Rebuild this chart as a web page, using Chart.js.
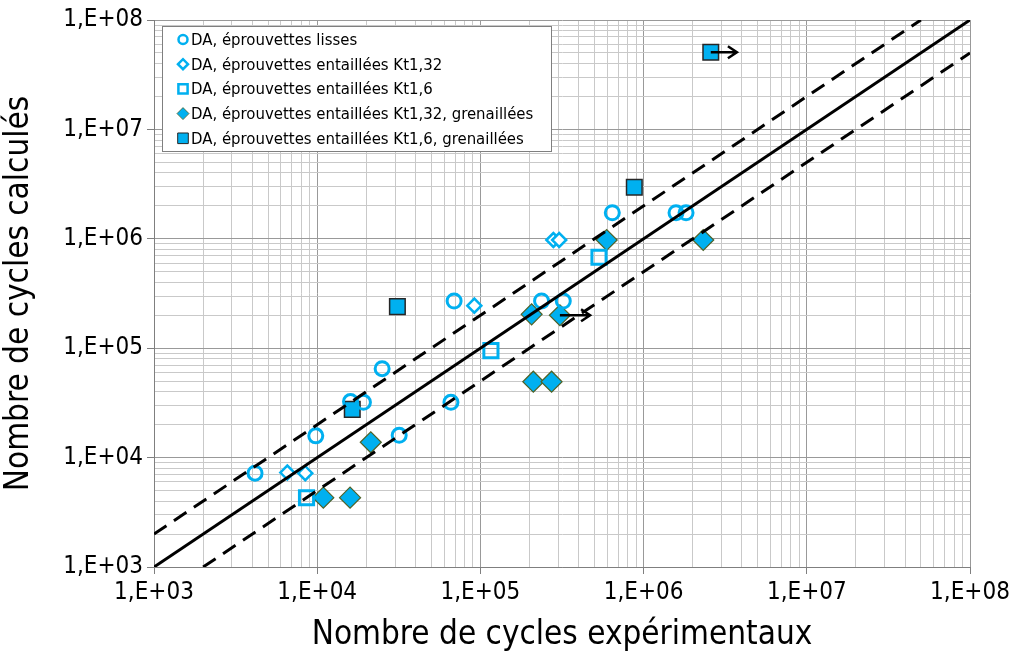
<!DOCTYPE html>
<html>
<head>
<meta charset="utf-8">
<script src="https://cdn.jsdelivr.net/npm/chart.js@4"></script>
<style>
  html, body { margin: 0; padding: 0; background: #fff; }
  #wrap { width: 1015px; height: 661px; position: relative; }
</style>
</head>
<body>
<div id="wrap"><canvas id="chart"></canvas></div>
<script>
// experimental cycles (x) / calculated cycles (y)
const lissesX = [4.16e3, 9.8e3, 1.6e4, 1.92e4, 2.5e4, 3.18e4, 6.6e4, 6.9e4, 2.37e5, 3.22e5, 6.43e5, 1.58e6, 1.82e6];
const lissesY = [7.2e3, 1.58e4, 3.25e4, 3.2e4, 6.5e4, 1.6e4, 3.2e4, 2.7e5, 2.7e5, 2.7e5, 1.73e6, 1.73e6, 1.73e6];

const kt132X = [6.56e3, 8.45e3, 9.18e4, 2.8e5, 3.04e5];
const kt132Y = [7.3e3, 7.2e3, 2.45e5, 9.75e5, 9.75e5];

const kt16X = [8.6e3, 1.16e5, 5.33e5];
const kt16Y = [4.3e3, 9.5e4, 6.78e5];

const kt132gX = [1.09e4, 1.59e4, 2.13e4, 2.06e5, 3.07e5, 2.11e5, 2.73e5, 5.94e5, 2.32e6];
const kt132gY = [4.3e3, 4.3e3, 1.38e4, 2.04e5, 2.0e5, 4.94e4, 4.94e4, 9.75e5, 9.75e5];

const kt16gX = [1.64e4, 3.1e4, 8.77e5, 2.58e6];
const kt16gY = [2.76e4, 2.4e5, 2.96e6, 5.07e7];

// run-outs: arrow start and end
const arrowFromX = [2.58e6, 3.07e5];
const arrowToX = [3.73e6, 4.7e5];
const arrowY = [5.07e7, 2.0e5];

// reference lines y = x, y = 2x, y = x/2
const diagX = [1e3, 1e8];
const diagY = [1e3, 1e8];
const upperX = [1e3, 5e7];
const upperY = [2e3, 1e8];
const lowerX = [2e3, 1e8];
const lowerY = [1e3, 5e7];

const legendLabels = [
  'DA, éprouvettes lisses',
  'DA, éprouvettes entaillées Kt1,32',
  'DA, éprouvettes entaillées Kt1,6',
  'DA, éprouvettes entaillées Kt1,32, grenaillées',
  'DA, éprouvettes entaillées Kt1,6, grenaillées'
];

const CYAN = '#00b0f0';
const FONT = '"DejaVu Sans Condensed", "DejaVu Sans", sans-serif';

const pts = (xs, ys) => xs.map((x, i) => ({ x, y: ys[i] }));

function decadeTicks() {
  const t = [];
  for (let e = 3; e < 8; e++) for (let m = 1; m < 10; m++) t.push({ value: m * Math.pow(10, e) });
  t.push({ value: 1e8 });
  return t;
}
const isDecade = v => Math.abs(Math.log10(v) - Math.round(Math.log10(v))) < 1e-9;
const fmt = v => isDecade(v) ? '1,E+' + String(Math.round(Math.log10(v))).padStart(2, '0') : '';

const legendPlugin = {
  id: 'boxLegend',
  afterDraw(chart) {
    const ctx = chart.ctx;
    const x0 = 162, y0 = 26, w = 389, h = 125;
    ctx.save();
    ctx.fillStyle = '#fff';
    ctx.fillRect(x0, y0, w, h);
    ctx.strokeStyle = '#7f7f7f';
    ctx.lineWidth = 1;
    ctx.strokeRect(x0 + 0.5, y0 + 0.5, w, h);
    ctx.font = '16.6px ' + FONT;
    ctx.textBaseline = 'middle';
    for (let i = 0; i < 5; i++) {
      const ds = chart.data.datasets[i];
      const cy = 39.5 + i * 24.7;
      ctx.fillStyle = ds.backgroundColor;
      ctx.strokeStyle = ds.borderColor;
      ctx.lineWidth = ds.legendBorder;
      Chart.helpers.drawPoint(ctx, { pointStyle: ds.pointStyle, radius: ds.legendRadius, borderWidth: ds.legendBorder, rotation: 0 }, 183, cy);
      ctx.fillStyle = '#000';
      ctx.fillText(ds.label, 191, cy + 1);
    }
    ctx.restore();
  }
};

const arrowPlugin = {
  id: 'arrows',
  afterDatasetsDraw(chart) {
    const { ctx, scales: { x, y } } = chart;
    ctx.save();
    ctx.strokeStyle = '#000';
    ctx.lineWidth = 2.5;
    arrowFromX.forEach((fx, i) => {
      const x1 = x.getPixelForValue(fx), x2 = x.getPixelForValue(arrowToX[i]);
      const py = y.getPixelForValue(arrowY[i]);
      ctx.beginPath();
      ctx.moveTo(x1, py); ctx.lineTo(x2, py);
      ctx.moveTo(x2 - 9, py - 6); ctx.lineTo(x2, py); ctx.lineTo(x2 - 9, py + 6);
      ctx.stroke();
    });
    ctx.restore();
  }
};

const lineDs = (xs, ys, dash) => ({
  data: pts(xs, ys), showLine: true, borderColor: '#000', borderWidth: 3,
  borderDash: dash, pointRadius: 0, pointHoverRadius: 0, fill: false, order: 0
});

const axis = (pos, title, titlePad) => ({
  type: 'logarithmic', position: pos, min: 1e3, max: 1e8,
  afterBuildTicks: s => { s.ticks = decadeTicks(); },
  afterFit: s => { if (pos === 'left') s.width = 154; else s.height = 94; },
  ticks: { autoSkip: false, maxRotation: 0, padding: 4, color: '#000',
    font: { family: FONT, size: 24 }, callback: v => fmt(v) },
  grid: {
    color: c => isDecade(c.tick.value) ? '#999999' : '#c9c9c9',
    tickColor: c => isDecade(c.tick.value) ? '#7f7f7f' : 'rgba(0,0,0,0)',
    tickLength: 7, lineWidth: 1
  },
  border: { color: '#7f7f7f', width: 1 },
  title: { display: true, text: title, color: '#000', padding: titlePad,
    font: { family: FONT, size: 33 } }
});

new Chart(document.getElementById('chart'), {
  type: 'scatter',
  data: {
    datasets: [
      { label: legendLabels[0], data: pts(lissesX, lissesY), pointStyle: 'circle', pointRadius: 7,
        borderWidth: 3, borderColor: CYAN, backgroundColor: 'rgba(0,0,0,0)', legendRadius: 4.5, legendBorder: 2.5, order: 1 },
      { label: legendLabels[1], data: pts(kt132X, kt132Y), pointStyle: 'rectRot', pointRadius: 7,
        borderWidth: 2.5, borderColor: CYAN, backgroundColor: '#fff', legendRadius: 5, legendBorder: 2.5, order: 1 },
      { label: legendLabels[2], data: pts(kt16X, kt16Y), pointStyle: 'rect', pointRadius: 10,
        borderWidth: 3, borderColor: CYAN, backgroundColor: 'rgba(0,0,0,0)', legendRadius: 6.5, legendBorder: 2.5, order: 1 },
      { label: legendLabels[3], data: pts(kt132gX, kt132gY), pointStyle: 'rectRot', pointRadius: 10.5,
        borderWidth: 1.2, borderColor: '#4f6228', backgroundColor: CYAN, legendRadius: 6, legendBorder: 0.8, order: 1 },
      { label: legendLabels[4], data: pts(kt16gX, kt16gY), pointStyle: 'rect', pointRadius: 11,
        borderWidth: 1.5, borderColor: '#262626', backgroundColor: CYAN, legendRadius: 7.5, legendBorder: 1, order: 1 },
      lineDs(diagX, diagY, []),
      lineDs(upperX, upperY, [15, 9]),
      lineDs(lowerX, lowerY, [15, 9])
    ]
  },
  options: {
    responsive: true,
    maintainAspectRatio: false,
    animation: false,
    layout: { padding: { top: 20, right: 45, left: 0, bottom: 0 } },
    scales: {
      x: axis('bottom', 'Nombre de cycles expérimentaux', { top: 0, bottom: 6 }),
      y: axis('left', 'Nombre de cycles calculés', { top: 0, bottom: 12 })
    },
    plugins: { legend: { display: false }, tooltip: { enabled: false } }
  },
  plugins: [arrowPlugin, legendPlugin]
});
</script>
</body>
</html>
